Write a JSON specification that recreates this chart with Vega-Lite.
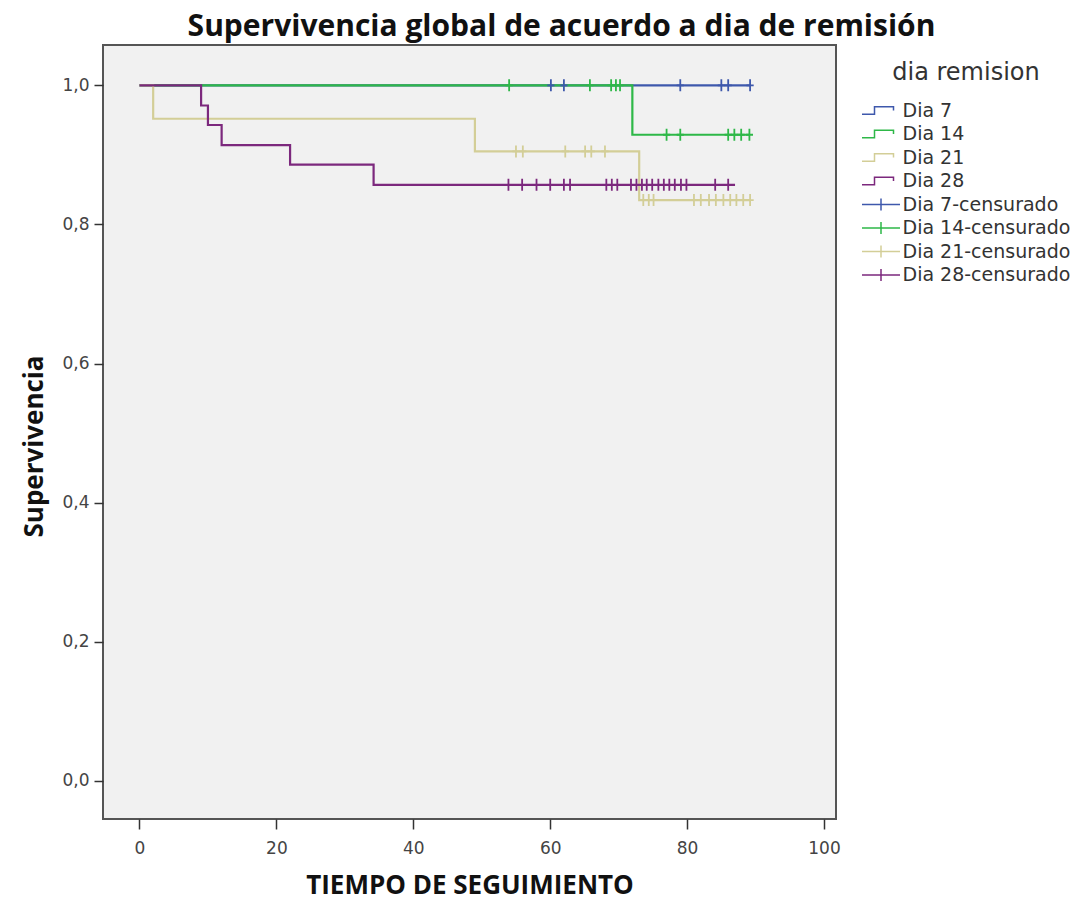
{
  "$schema": "https://vega.github.io/schema/vega-lite/v6.json",
  "width": 733,
  "height": 774,
  "autosize": {"type": "none"},
  "padding": {"left": 103, "top": 45, "right": 255, "bottom": 86},
  "background": "white",
  "config": {
    "view": {"fill": "#f1f1f1", "stroke": "#555555", "strokeWidth": 2}
  },
  "title": {
    "text": "Supervivencia global de acuerdo a dia de remisión",
    "font": "Open Sans",
    "fontWeight": "bold",
    "fontSize": 30,
    "color": "#111111",
    "anchor": "middle",
    "dx": 92,
    "offset": 3
  },
  "encoding": {
    "x": {
      "field": "t",
      "type": "quantitative",
      "scale": {"domain": [-5.33, 101.75], "nice": false, "zero": false},
      "axis": {
        "values": [0, 20, 40, 60, 80, 100],
        "title": "TIEMPO DE SEGUIMIENTO",
        "grid": false,
        "domain": false,
        "tickSize": 10,
        "tickColor": "#333333",
        "tickWidth": 1.5,
        "labelFont": "DejaVu Sans",
        "labelFontSize": 17,
        "labelColor": "#444444",
        "labelPadding": 11,
        "titleFont": "Open Sans",
        "titleFontSize": 26,
        "titleFontWeight": "bold",
        "titleColor": "#111111",
        "titlePadding": 16
      }
    },
    "y": {
      "field": "s",
      "type": "quantitative",
      "scale": {"domain": [-0.0547, 1.058], "nice": false, "zero": false},
      "axis": {
        "values": [0, 0.2, 0.4, 0.6, 0.8, 1.0],
        "labelExpr": "replace(format(datum.value, '.1f'), '.', ',')",
        "title": "Supervivencia",
        "grid": false,
        "domain": false,
        "tickSize": 9,
        "tickColor": "#333333",
        "tickWidth": 1.5,
        "labelFont": "DejaVu Sans",
        "labelFontSize": 17,
        "labelColor": "#444444",
        "labelPadding": 5,
        "titleFont": "Open Sans",
        "titleFontSize": 26,
        "titleFontWeight": "bold",
        "titleColor": "#111111",
        "titlePadding": 14,
        "titleY": 401
      }
    },
    "color": {
      "field": "g",
      "type": "nominal",
      "scale": {
        "domain": ["Dia 7", "Dia 14", "Dia 21", "Dia 28", "Dia 7-censurado", "Dia 14-censurado", "Dia 21-censurado", "Dia 28-censurado"],
        "range": ["#3e58ac", "#2eb848", "#d3ce97", "#7c287d", "#3e58ac", "#2eb848", "#d3ce97", "#7c287d"]
      },
      "legend": {
        "title": "dia remision",
        "orient": "none",
        "legendX": 759,
        "legendY": 16,
        "padding": 0,
        "titleFont": "DejaVu Sans",
        "titleFontSize": 24,
        "titleFontWeight": "normal",
        "titleColor": "#333333",
        "titleAnchor": "middle",
        "titlePadding": 16,
        "labelFont": "DejaVu Sans",
        "labelFontSize": 19,
        "labelColor": "#333333",
        "labelLimit": 300,
        "labelOffset": 12,
        "symbolSize": 100,
        "symbolOffset": 9.5,
        "symbolStrokeWidth": 1.5,
        "symbolFillColor": "transparent",
        "symbolOpacity": 1,
        "rowPadding": 3.5,
        "encoding": {
          "symbols": {
            "shape": {
              "condition": {"test": "indexof(datum.value, 'censurado') >= 0", "value": "M-3.8,0H3.8M0,-1.2V1.2"},
              "value": "M-3.8,0.75H-1.3V-0.75H2.5V0"
            }
          }
        }
      }
    }
  },
  "layer": [
    {
      "data": {
        "values": [
          {"g": "Dia 7", "t": 0, "s": 1},
          {"g": "Dia 7", "t": 89.2, "s": 1},
          {"g": "Dia 14", "t": 0, "s": 1},
          {"g": "Dia 14", "t": 72, "s": 0.929},
          {"g": "Dia 14", "t": 89.1, "s": 0.929},
          {"g": "Dia 21", "t": 0, "s": 1},
          {"g": "Dia 21", "t": 2, "s": 0.952},
          {"g": "Dia 21", "t": 49, "s": 0.905},
          {"g": "Dia 21", "t": 73, "s": 0.835},
          {"g": "Dia 21", "t": 89.2, "s": 0.835},
          {"g": "Dia 28", "t": 0, "s": 1},
          {"g": "Dia 28", "t": 9, "s": 0.971},
          {"g": "Dia 28", "t": 10, "s": 0.943},
          {"g": "Dia 28", "t": 12, "s": 0.914},
          {"g": "Dia 28", "t": 22, "s": 0.886},
          {"g": "Dia 28", "t": 34.2, "s": 0.857},
          {"g": "Dia 28", "t": 87, "s": 0.857}
        ]
      },
      "mark": {"type": "line", "interpolate": "step-after", "strokeWidth": 2.2}
    },
    {
      "data": {
        "values": [
          {"g": "Dia 7-censurado", "t": 60.1, "s": 1},
          {"g": "Dia 7-censurado", "t": 62.0, "s": 1},
          {"g": "Dia 7-censurado", "t": 79.0, "s": 1},
          {"g": "Dia 7-censurado", "t": 85.0, "s": 1},
          {"g": "Dia 7-censurado", "t": 86.0, "s": 1},
          {"g": "Dia 7-censurado", "t": 89.2, "s": 1},
          {"g": "Dia 14-censurado", "t": 54.0, "s": 1},
          {"g": "Dia 14-censurado", "t": 65.8, "s": 1},
          {"g": "Dia 14-censurado", "t": 68.9, "s": 1},
          {"g": "Dia 14-censurado", "t": 69.6, "s": 1},
          {"g": "Dia 14-censurado", "t": 70.2, "s": 1},
          {"g": "Dia 14-censurado", "t": 77.0, "s": 0.929},
          {"g": "Dia 14-censurado", "t": 79.0, "s": 0.929},
          {"g": "Dia 14-censurado", "t": 86.0, "s": 0.929},
          {"g": "Dia 14-censurado", "t": 86.9, "s": 0.929},
          {"g": "Dia 14-censurado", "t": 87.9, "s": 0.929},
          {"g": "Dia 14-censurado", "t": 89.1, "s": 0.929},
          {"g": "Dia 21-censurado", "t": 55.0, "s": 0.905},
          {"g": "Dia 21-censurado", "t": 56.0, "s": 0.905},
          {"g": "Dia 21-censurado", "t": 62.2, "s": 0.905},
          {"g": "Dia 21-censurado", "t": 65.1, "s": 0.905},
          {"g": "Dia 21-censurado", "t": 66.0, "s": 0.905},
          {"g": "Dia 21-censurado", "t": 68.0, "s": 0.905},
          {"g": "Dia 21-censurado", "t": 73.6, "s": 0.835},
          {"g": "Dia 21-censurado", "t": 74.4, "s": 0.835},
          {"g": "Dia 21-censurado", "t": 75.1, "s": 0.835},
          {"g": "Dia 21-censurado", "t": 81.0, "s": 0.835},
          {"g": "Dia 21-censurado", "t": 82.0, "s": 0.835},
          {"g": "Dia 21-censurado", "t": 83.2, "s": 0.835},
          {"g": "Dia 21-censurado", "t": 84.2, "s": 0.835},
          {"g": "Dia 21-censurado", "t": 85.3, "s": 0.835},
          {"g": "Dia 21-censurado", "t": 86.3, "s": 0.835},
          {"g": "Dia 21-censurado", "t": 87.2, "s": 0.835},
          {"g": "Dia 21-censurado", "t": 88.2, "s": 0.835},
          {"g": "Dia 21-censurado", "t": 89.2, "s": 0.835},
          {"g": "Dia 28-censurado", "t": 53.9, "s": 0.857},
          {"g": "Dia 28-censurado", "t": 55.9, "s": 0.857},
          {"g": "Dia 28-censurado", "t": 58.0, "s": 0.857},
          {"g": "Dia 28-censurado", "t": 60.0, "s": 0.857},
          {"g": "Dia 28-censurado", "t": 62.0, "s": 0.857},
          {"g": "Dia 28-censurado", "t": 62.9, "s": 0.857},
          {"g": "Dia 28-censurado", "t": 68.2, "s": 0.857},
          {"g": "Dia 28-censurado", "t": 69.0, "s": 0.857},
          {"g": "Dia 28-censurado", "t": 69.8, "s": 0.857},
          {"g": "Dia 28-censurado", "t": 71.8, "s": 0.857},
          {"g": "Dia 28-censurado", "t": 72.6, "s": 0.857},
          {"g": "Dia 28-censurado", "t": 73.4, "s": 0.857},
          {"g": "Dia 28-censurado", "t": 74.1, "s": 0.857},
          {"g": "Dia 28-censurado", "t": 74.9, "s": 0.857},
          {"g": "Dia 28-censurado", "t": 75.8, "s": 0.857},
          {"g": "Dia 28-censurado", "t": 76.6, "s": 0.857},
          {"g": "Dia 28-censurado", "t": 77.4, "s": 0.857},
          {"g": "Dia 28-censurado", "t": 78.2, "s": 0.857},
          {"g": "Dia 28-censurado", "t": 79.1, "s": 0.857},
          {"g": "Dia 28-censurado", "t": 79.9, "s": 0.857},
          {"g": "Dia 28-censurado", "t": 84.1, "s": 0.857},
          {"g": "Dia 28-censurado", "t": 86.0, "s": 0.857}
        ]
      },
      "mark": {
        "type": "point",
        "shape": "M-0.6,0H0.6M0,-1V1",
        "size": 144,
        "filled": false,
        "strokeWidth": 1.8,
        "opacity": 1
      }
    }
  ]
}
